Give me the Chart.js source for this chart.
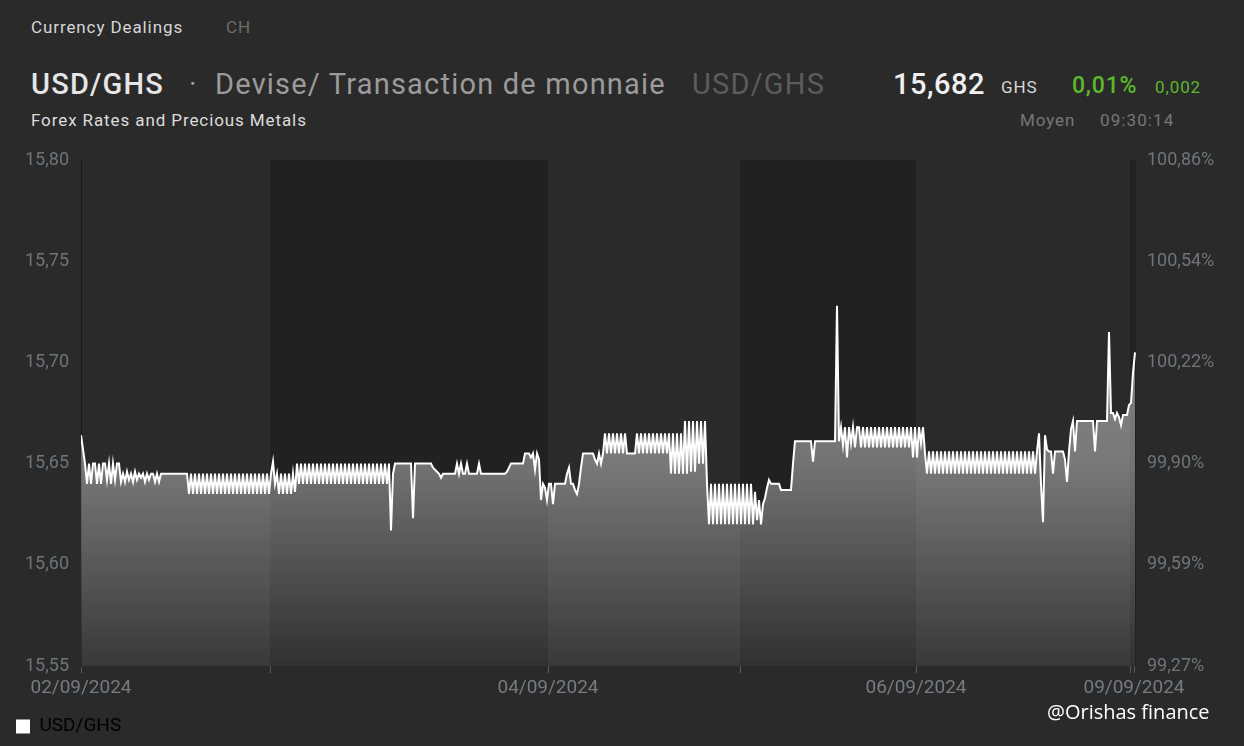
<!DOCTYPE html>
<html>
<head>
<meta charset="utf-8">
<script src="https://cdn.jsdelivr.net/npm/chart.js@4"></script>
<style>
  body { margin: 0; background: #2a2a2a; width: 1244px; height: 746px; overflow: hidden; position: relative; font-family: Roboto, sans-serif; }
  .t { position: absolute; white-space: nowrap; line-height: 1; }
  .s { font-size: 17px; letter-spacing: 0.9px; }
  .b { font-size: 29px; letter-spacing: 1.2px; }
  #wrap { position: absolute; left: 0; top: 140px; width: 1244px; height: 606px; }
</style>
</head>
<body>
<div class="t s" style="left:31px;top:19px;color:#d6d6d6">Currency Dealings</div>
<div class="t s" style="left:226px;top:19px;color:#6c6c6c">CH</div>
<div class="t b" style="left:31px;top:70px;font-weight:500;color:#e6e6e6">USD/GHS</div>
<div class="t b" style="left:189px;top:70px;color:#9b9b9b">·</div>
<div class="t b" style="left:215px;top:70px;color:#9b9b9b">Devise/ Transaction de monnaie</div>
<div class="t b" style="left:692px;top:70px;color:#5c5c5c">USD/GHS</div>
<div class="t b" style="left:893px;top:70px;font-weight:500;color:#f0f0f0;letter-spacing:0.5px">15,682</div>
<div class="t s" style="left:1001px;top:79px;color:#d8d8d8">GHS</div>
<div class="t" style="left:1072px;top:74px;font-size:23px;letter-spacing:0.8px;font-weight:500;color:#5cb82c">0,01%</div>
<div class="t s" style="left:1155px;top:79px;color:#5cb82c">0,002</div>
<div class="t s" style="left:31px;top:112px;color:#dcdcdc">Forex Rates and Precious Metals</div>
<div class="t s" style="left:1020px;top:112px;color:#777">Moyen</div>
<div class="t s" style="left:1100px;top:112px;color:#777;letter-spacing:1.1px">09:30:14</div>
<div id="wrap"><canvas id="chart"></canvas></div>
<div class="t" style="left:1047px;top:702px;font-size:20px;color:#fff;font-family:'Open Sans',sans-serif">@Orishas finance</div>
<script>
// USD/GHS rates, one array per trading day (equally spaced samples)
const usdGhs0209 = [
  15.664, 15.657, 15.650,
  15.640, 15.650, 15.640, 15.650, 15.650, 15.640, 15.650, 15.640, 15.650, 15.650,
  15.642, 15.650, 15.640, 15.650, 15.642, 15.650, 15.650, 15.641,
  15.645, 15.641, 15.646, 15.642, 15.645, 15.641, 15.646, 15.642, 15.645, 15.643,
  15.645, 15.641, 15.645, 15.642, 15.645, 15.645, 15.641, 15.645, 15.641, 15.645,
  15.645, 15.645, 15.645, 15.645, 15.645, 15.645, 15.645, 15.645, 15.645, 15.645, 15.645, 15.645, 15.645,
  15.635, 15.645, 15.635, 15.645, 15.635, 15.645, 15.635, 15.645, 15.635, 15.645,
  15.635, 15.645, 15.635, 15.645, 15.635, 15.645, 15.635, 15.645, 15.635, 15.645,
  15.635, 15.645, 15.635, 15.645, 15.635, 15.645, 15.635, 15.645, 15.635, 15.645,
  15.635, 15.645, 15.635, 15.645, 15.635, 15.645, 15.635, 15.645, 15.635, 15.645,
  15.635
];
const usdGhs0309 = [
  15.645, 15.651, 15.640, 15.645,
  15.635, 15.645, 15.635, 15.645, 15.635, 15.645, 15.635, 15.645, 15.636,
  15.650, 15.640, 15.650, 15.640, 15.650, 15.640, 15.650, 15.640, 15.650, 15.640,
  15.650, 15.640, 15.650, 15.640, 15.650, 15.640, 15.650, 15.640, 15.650, 15.640,
  15.650, 15.640, 15.650, 15.640, 15.650, 15.640, 15.650, 15.640, 15.650, 15.640,
  15.650, 15.640, 15.650, 15.640, 15.650, 15.640, 15.650, 15.640, 15.650, 15.640,
  15.650, 15.640, 15.650, 15.640, 15.650, 15.640, 15.650,
  15.617,
  15.645, 15.650, 15.650,
  15.650, 15.650, 15.650, 15.650, 15.650, 15.650, 15.650, 15.623, 15.650,
  15.650, 15.650, 15.650, 15.650, 15.650, 15.650, 15.650, 15.650,
  15.648, 15.647, 15.646, 15.645,
  15.643, 15.645, 15.645, 15.645, 15.645, 15.645, 15.645, 15.645, 15.650, 15.645,
  15.650, 15.645, 15.645, 15.650, 15.645, 15.645, 15.645, 15.645, 15.645, 15.650,
  15.645, 15.645, 15.645, 15.645, 15.645, 15.645, 15.645, 15.645, 15.645, 15.645,
  15.645, 15.645, 15.645,
  15.646, 15.648, 15.650, 15.650, 15.650, 15.650, 15.650, 15.650, 15.650,
  15.655, 15.655, 15.655, 15.653, 15.655, 15.647, 15.655, 15.652, 15.632, 15.640,
  15.638, 15.632
];
const usdGhs0409 = [
  15.640, 15.640, 15.630, 15.640, 15.640, 15.640, 15.640, 15.640, 15.640, 15.645,
  15.648, 15.640, 15.640, 15.637, 15.635, 15.640, 15.648, 15.655, 15.655, 15.655,
  15.655, 15.655, 15.655, 15.652, 15.650, 15.655, 15.650,
  15.655, 15.665, 15.655, 15.665, 15.655, 15.665, 15.655, 15.665, 15.655, 15.665,
  15.655, 15.665, 15.655, 15.655, 15.655, 15.655, 15.655,
  15.665, 15.655, 15.665, 15.655, 15.665, 15.655, 15.665, 15.655,
  15.665, 15.655, 15.665, 15.655, 15.665, 15.655, 15.665, 15.655,
  15.665, 15.645, 15.665, 15.645, 15.665, 15.645, 15.665, 15.645,
  15.671, 15.645, 15.671, 15.646, 15.671, 15.646, 15.671, 15.650, 15.671, 15.650, 15.671,
  15.640, 15.620, 15.640, 15.620, 15.640, 15.620, 15.640, 15.620,
  15.640, 15.620, 15.640, 15.620, 15.640, 15.620, 15.640, 15.620, 15.640
];
const usdGhs0509 = [
  15.620, 15.640, 15.620, 15.640, 15.620, 15.640, 15.620,
  15.636, 15.622, 15.632, 15.620, 15.630, 15.633, 15.638, 15.642, 15.640, 15.640,
  15.640, 15.640, 15.640, 15.637, 15.637, 15.637, 15.637, 15.637, 15.637,
  15.650, 15.661,
  15.661, 15.661, 15.661, 15.661, 15.661, 15.661, 15.661, 15.661, 15.651, 15.661,
  15.661, 15.661, 15.661, 15.661, 15.661, 15.661, 15.661, 15.661, 15.661, 15.661,
  15.728,
  15.661, 15.668, 15.659, 15.668, 15.653, 15.668, 15.660, 15.668, 15.658, 15.668, 15.668, 15.658,
  15.668, 15.658, 15.668, 15.658, 15.668, 15.658, 15.668, 15.658, 15.668, 15.658,
  15.668, 15.658, 15.668, 15.658, 15.668, 15.658, 15.668, 15.658, 15.668, 15.658,
  15.668, 15.658, 15.668, 15.658, 15.668, 15.653, 15.668
];
const usdGhs0609 = [
  15.653, 15.668, 15.660, 15.668, 15.655,
  15.645, 15.656, 15.645, 15.656, 15.645, 15.656, 15.645, 15.656, 15.645, 15.656,
  15.645, 15.656, 15.645, 15.656, 15.645, 15.656, 15.645, 15.656, 15.645, 15.656,
  15.645, 15.656, 15.645, 15.656, 15.645, 15.656, 15.645, 15.656, 15.645, 15.656,
  15.645, 15.656, 15.645, 15.656, 15.645, 15.656, 15.645, 15.656, 15.645, 15.656,
  15.645, 15.656, 15.645, 15.656, 15.645, 15.656, 15.645, 15.656, 15.645, 15.656,
  15.645, 15.656, 15.645, 15.656, 15.645, 15.656,
  15.665, 15.640, 15.621, 15.664, 15.657, 15.656, 15.656, 15.645, 15.656, 15.656,
  15.656, 15.656, 15.656, 15.652, 15.641, 15.656, 15.667, 15.671, 15.656, 15.671,
  15.671, 15.671, 15.671, 15.671, 15.671, 15.671, 15.671, 15.671, 15.656, 15.671,
  15.671, 15.671, 15.671, 15.671, 15.671, 15.715, 15.675, 15.675, 15.672, 15.675,
  15.673, 15.669, 15.674, 15.674, 15.674, 15.679
];
const usdGhs0909 = [15.680, 15.695, 15.705];

const dayRates = [usdGhs0209, usdGhs0309, usdGhs0409, usdGhs0509, usdGhs0609, usdGhs0909];
const dayLabels = ['02/09/2024', '', '04/09/2024', '', '06/09/2024', '09/09/2024'];
const yTicks = [15.55, 15.60, 15.65, 15.70, 15.75, 15.80];
const refRate = 15.665; // 100 % on the right-hand axis

// flatten days onto one index axis
const points = [];
const dayStarts = [];
dayRates.forEach(day => {
  dayStarts.push(points.length);
  day.forEach(v => points.push({ x: points.length, y: v }));
});
const lastIdx = points.length - 1;

// tick positions: day boundaries plus end of axis
const xTickVals = dayStarts.map((s, i) => (i === 0 ? 0 : s - 0.5));
const xTickText = dayLabels.slice();
xTickVals.push(lastIdx - 0.5);
xTickText[xTickText.length - 1] = '';
xTickText.push(dayLabels[dayLabels.length - 1]);

const fmt = v => v.toFixed(2).replace('.', ',');

const dayBands = {
  id: 'dayBands',
  beforeDraw(chart) {
    const { ctx, chartArea: a, scales: { x } } = chart;
    ctx.save();
    dayStarts.forEach((s, i) => {
      const x0 = i === 0 ? a.left : x.getPixelForValue(s - 0.5);
      const x1 = i === dayStarts.length - 1 ? a.right : x.getPixelForValue(dayStarts[i + 1] - 0.5);
      ctx.fillStyle = i % 2 ? '#212121' : '#2a2a2a';
      ctx.fillRect(x0, a.top, x1 - x0, a.bottom - a.top);
    });
    ctx.restore();
  }
};

new Chart(document.getElementById('chart'), {
  type: 'line',
  data: {
    datasets: [{
      label: 'USD/GHS',
      data: points,
      borderColor: '#ffffff',
      borderWidth: 2,
      pointRadius: 0,
      tension: 0,
      fill: 'start',
      backgroundColor: (c) => {
        const area = c.chart.chartArea;
        if (!area) return 'rgba(255,255,255,0.3)';
        const g = c.chart.ctx.createLinearGradient(0, area.top, 0, area.bottom);
        g.addColorStop(0, 'rgba(255,255,255,0.5)');
        g.addColorStop(0.6, 'rgba(255,255,255,0.37)');
        g.addColorStop(1, 'rgba(255,255,255,0.07)');
        return g;
      }
    }]
  },
  options: {
    responsive: true,
    maintainAspectRatio: false,
    animation: false,
    layout: { padding: { top: 20, left: 6, right: 0, bottom: 0 } },
    plugins: {
      tooltip: { enabled: false },
      legend: {
        position: 'bottom',
        align: 'start',
        labels: {
          boxWidth: 14,
          boxHeight: 14,
          padding: 10,
          color: '#d5d5d5',
          font: { family: 'Roboto', size: 19 },
          generateLabels: () => [{ text: 'USD/GHS', fillStyle: '#ffffff', strokeStyle: '#ffffff', lineWidth: 0, hidden: false, datasetIndex: 0 }]
        }
      }
    },
    scales: {
      x: {
        type: 'linear',
        min: 0,
        max: lastIdx + 0.5,
        afterBuildTicks: s => { s.ticks = xTickVals.map(v => ({ value: v })); },
        afterFit: s => { s.height = 41; },
        ticks: {
          autoSkip: false,
          maxRotation: 0,
          padding: 4,
          color: '#767b80',
          font: { family: 'Roboto', size: 19 },
          callback: (v, i) => xTickText[i]
        },
        grid: { drawOnChartArea: false, drawTicks: true, tickLength: 7, color: '#5a5a5a' },
        border: { display: false }
      },
      y: {
        position: 'left',
        min: 15.55,
        max: 15.80,
        afterBuildTicks: s => { s.ticks = yTicks.map(v => ({ value: v })); },
        afterFit: s => { s.width = 75; },
        ticks: { padding: 4, color: '#6f7479', font: { family: 'Roboto', size: 18 }, callback: v => fmt(v) },
        grid: { display: false },
        border: { display: true, color: '#181818', width: 1 }
      },
      y2: {
        position: 'right',
        min: 15.55,
        max: 15.80,
        afterBuildTicks: s => { s.ticks = yTicks.map(v => ({ value: v })); },
        afterFit: s => { s.width = 108; },
        ticks: { padding: 3, color: '#6f7479', font: { family: 'Roboto', size: 18 }, callback: v => fmt(v / refRate * 100) + '%' },
        grid: { display: false },
        border: { display: false }
      }
    }
  },
  plugins: [dayBands]
});
</script>
</body>
</html>
